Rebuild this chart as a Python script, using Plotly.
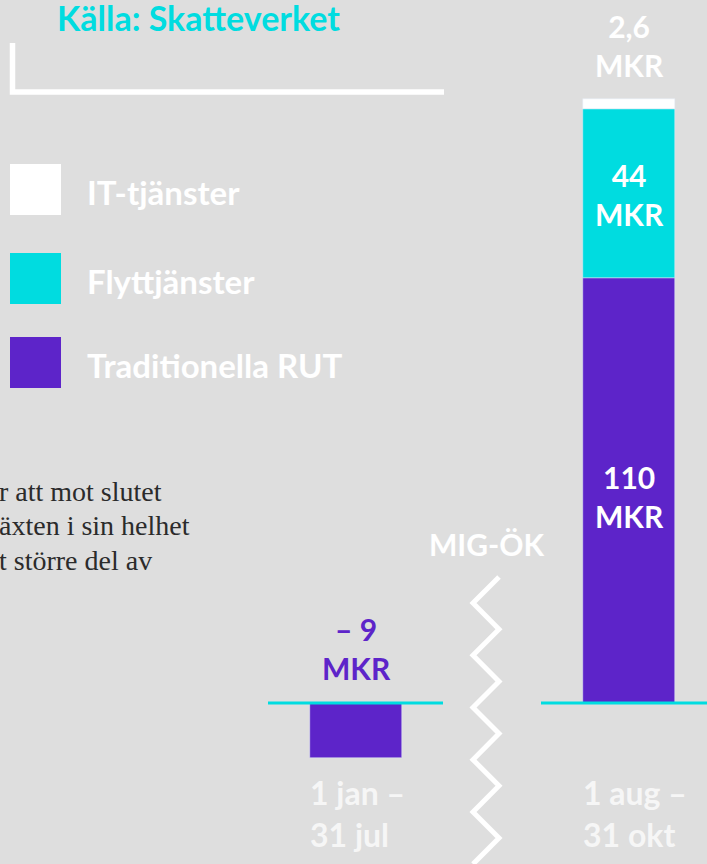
import plotly.graph_objects as go

# ---------------- data ----------------
periods = ["1 jan – 31 jul", "1 aug – 31 okt"]
period_labels = ["1 jan –<br>31 jul", "1 aug –<br>31 okt"]
series_names = ["IT-tjänster", "Flyttjänster", "Traditionella RUT"]
trad_rut = [-9, 110]      # MKR
flytt = [None, 44]        # MKR
it_tj = [None, 2.6]       # MKR
source = "Källa: Skatteverket"
divider_label = "MIG-ÖK"
body_lines = ["r att mot slutet", "äxten i sin helhet", "t större del av"]

# ---------------- style ----------------
BG = "#dedede"
PURPLE = "#5d24c9"
CYAN = "#00dce0"
WHITE = "#ffffff"
colors = {"IT-tjänster": WHITE, "Flyttjänster": CYAN, "Traditionella RUT": PURPLE}
SANS = "Lato"
W, H = 707, 864


def px(x):
    return x / W


def py(y):
    return 1 - y / H


def mkr(v):
    s = f"{abs(v):g}".replace(".", ",")
    return ("– " + s if v < 0 else s) + "<br>MKR"


# axis geometry (pixel layout of the infographic)
ZERO = 703
K_MAIN = 3.86     # px per MKR for the aug-okt column
K_NEG = 6.11      # px per MKR as drawn for the jan-jul column
BAR_W = 92 / 273

fig = go.Figure()

fig.add_bar(x=[periods[0]], y=[trad_rut[0]], yaxis="y2", marker_color=PURPLE,
            width=BAR_W, name=series_names[2], showlegend=False, hoverinfo="skip")
fig.add_bar(x=[periods[1]], y=[trad_rut[1]], marker_color=PURPLE,
            width=BAR_W, name=series_names[2], showlegend=False)
fig.add_bar(x=[periods[1]], y=[flytt[1]], marker_color=CYAN,
            width=BAR_W, name=series_names[1], showlegend=False)
fig.add_bar(x=[periods[1]], y=[it_tj[1]], marker_color=WHITE,
            width=BAR_W, name=series_names[0], showlegend=False)

shapes = []
# bracket under source
shapes.append(dict(type="path", xref="paper", yref="paper",
                   path=f"M {px(12.5)},{py(43)} L {px(12.5)},{py(92)} L {px(444)},{py(92)}",
                   line=dict(color=WHITE, width=5.5)))
# cyan baselines
shapes.append(dict(type="line", xref="paper", yref="y", x0=px(268), x1=px(443), y0=0, y1=0,
                   line=dict(color=CYAN, width=3), layer="above"))
shapes.append(dict(type="line", xref="paper", yref="y", x0=px(541), x1=px(707), y0=0, y1=0,
                   line=dict(color=CYAN, width=3), layer="above"))
# zigzag divider
pts = []
for k in range(12):
    yy = 577 + k * 26.1
    xx = 499 if k % 2 == 0 else 473
    pts.append(f"{px(xx)},{py(yy)}")
shapes.append(dict(type="path", xref="paper", yref="paper",
                   path="M " + " L ".join(pts), line=dict(color=WHITE, width=5)))
# legend squares
leg_tops = [164, 253, 337]
for name, top in zip(series_names, leg_tops):
    shapes.append(dict(type="rect", xref="paper", yref="paper",
                       x0=px(10), x1=px(61), y0=py(top), y1=py(top + 51),
                       fillcolor=colors[name], line=dict(width=0)))

ann = []
ann.append(dict(text=source, xref="paper", yref="paper", x=px(55), y=py(17),
                xanchor="left", yanchor="middle", showarrow=False,
                font=dict(family=SANS, size=34, color=CYAN, weight="bold")))
for name, top in zip(series_names, leg_tops):
    ann.append(dict(text=name, xref="paper", yref="paper", x=px(85), y=py(top + 28),
                    xanchor="left", yanchor="middle", showarrow=False,
                    font=dict(family=SANS, size=33, color=WHITE, weight="bold")))
for i, line in enumerate(body_lines):
    ann.append(dict(text=line, xref="paper", yref="paper", x=px(-3), y=py(491 + i * 34.5),
                    xanchor="left", yanchor="middle", showarrow=False,
                    font=dict(family="Liberation Serif", size=28, color="#2b2b2b")))
ann.append(dict(text=divider_label, xref="paper", yref="paper", x=px(486), y=py(544),
                xanchor="center", yanchor="middle", showarrow=False,
                font=dict(family=SANS, size=30, color=WHITE, weight="bold")))
# value labels
vl = [(periods[0], mkr(trad_rut[0]), 648, PURPLE),
      (periods[1], mkr(trad_rut[1]), 496, WHITE),
      (periods[1], mkr(flytt[1]), 195, WHITE),
      (periods[1], mkr(it_tj[1]), 46, WHITE)]
for xcat, txt, yc, col in vl:
    ann.append(dict(text=txt, xref="x", yref="paper", x=xcat, y=py(yc),
                    xanchor="center", yanchor="middle", showarrow=False,
                    font=dict(family=SANS, size=30, color=col, weight="bold")))
# period labels
for xcat, txt in zip(periods, period_labels):
    ann.append(dict(text=txt, xref="x", yref="paper", x=xcat, y=py(813), xshift=-48,
                    xanchor="left", yanchor="middle", align="left", showarrow=False,
                    font=dict(family=SANS, size=32, color="#f6f6f6", weight="bold")))

x_lo = -356 / 273
x_hi = (W - 356) / 273
fig.update_layout(
    width=W, height=H,
    margin=dict(l=0, r=0, t=0, b=0),
    paper_bgcolor=BG, plot_bgcolor=BG,
    barmode="relative", bargap=0,
    showlegend=False,
    xaxis=dict(type="category", categoryorder="array", categoryarray=periods,
               range=[x_lo, x_hi], visible=False, fixedrange=True),
    yaxis=dict(range=[-(H - ZERO) / K_MAIN, ZERO / K_MAIN], visible=False,
               showgrid=False, zeroline=False, fixedrange=True),
    yaxis2=dict(range=[-(H - ZERO) / K_NEG, ZERO / K_NEG], overlaying="y",
                visible=False, showgrid=False, zeroline=False, fixedrange=True),
    shapes=shapes,
    annotations=ann,
)

fig.write_html("out.html",
               config={"displayModeBar": False},
               post_script="document.body.style.margin='0';document.body.style.overflow='hidden';")
